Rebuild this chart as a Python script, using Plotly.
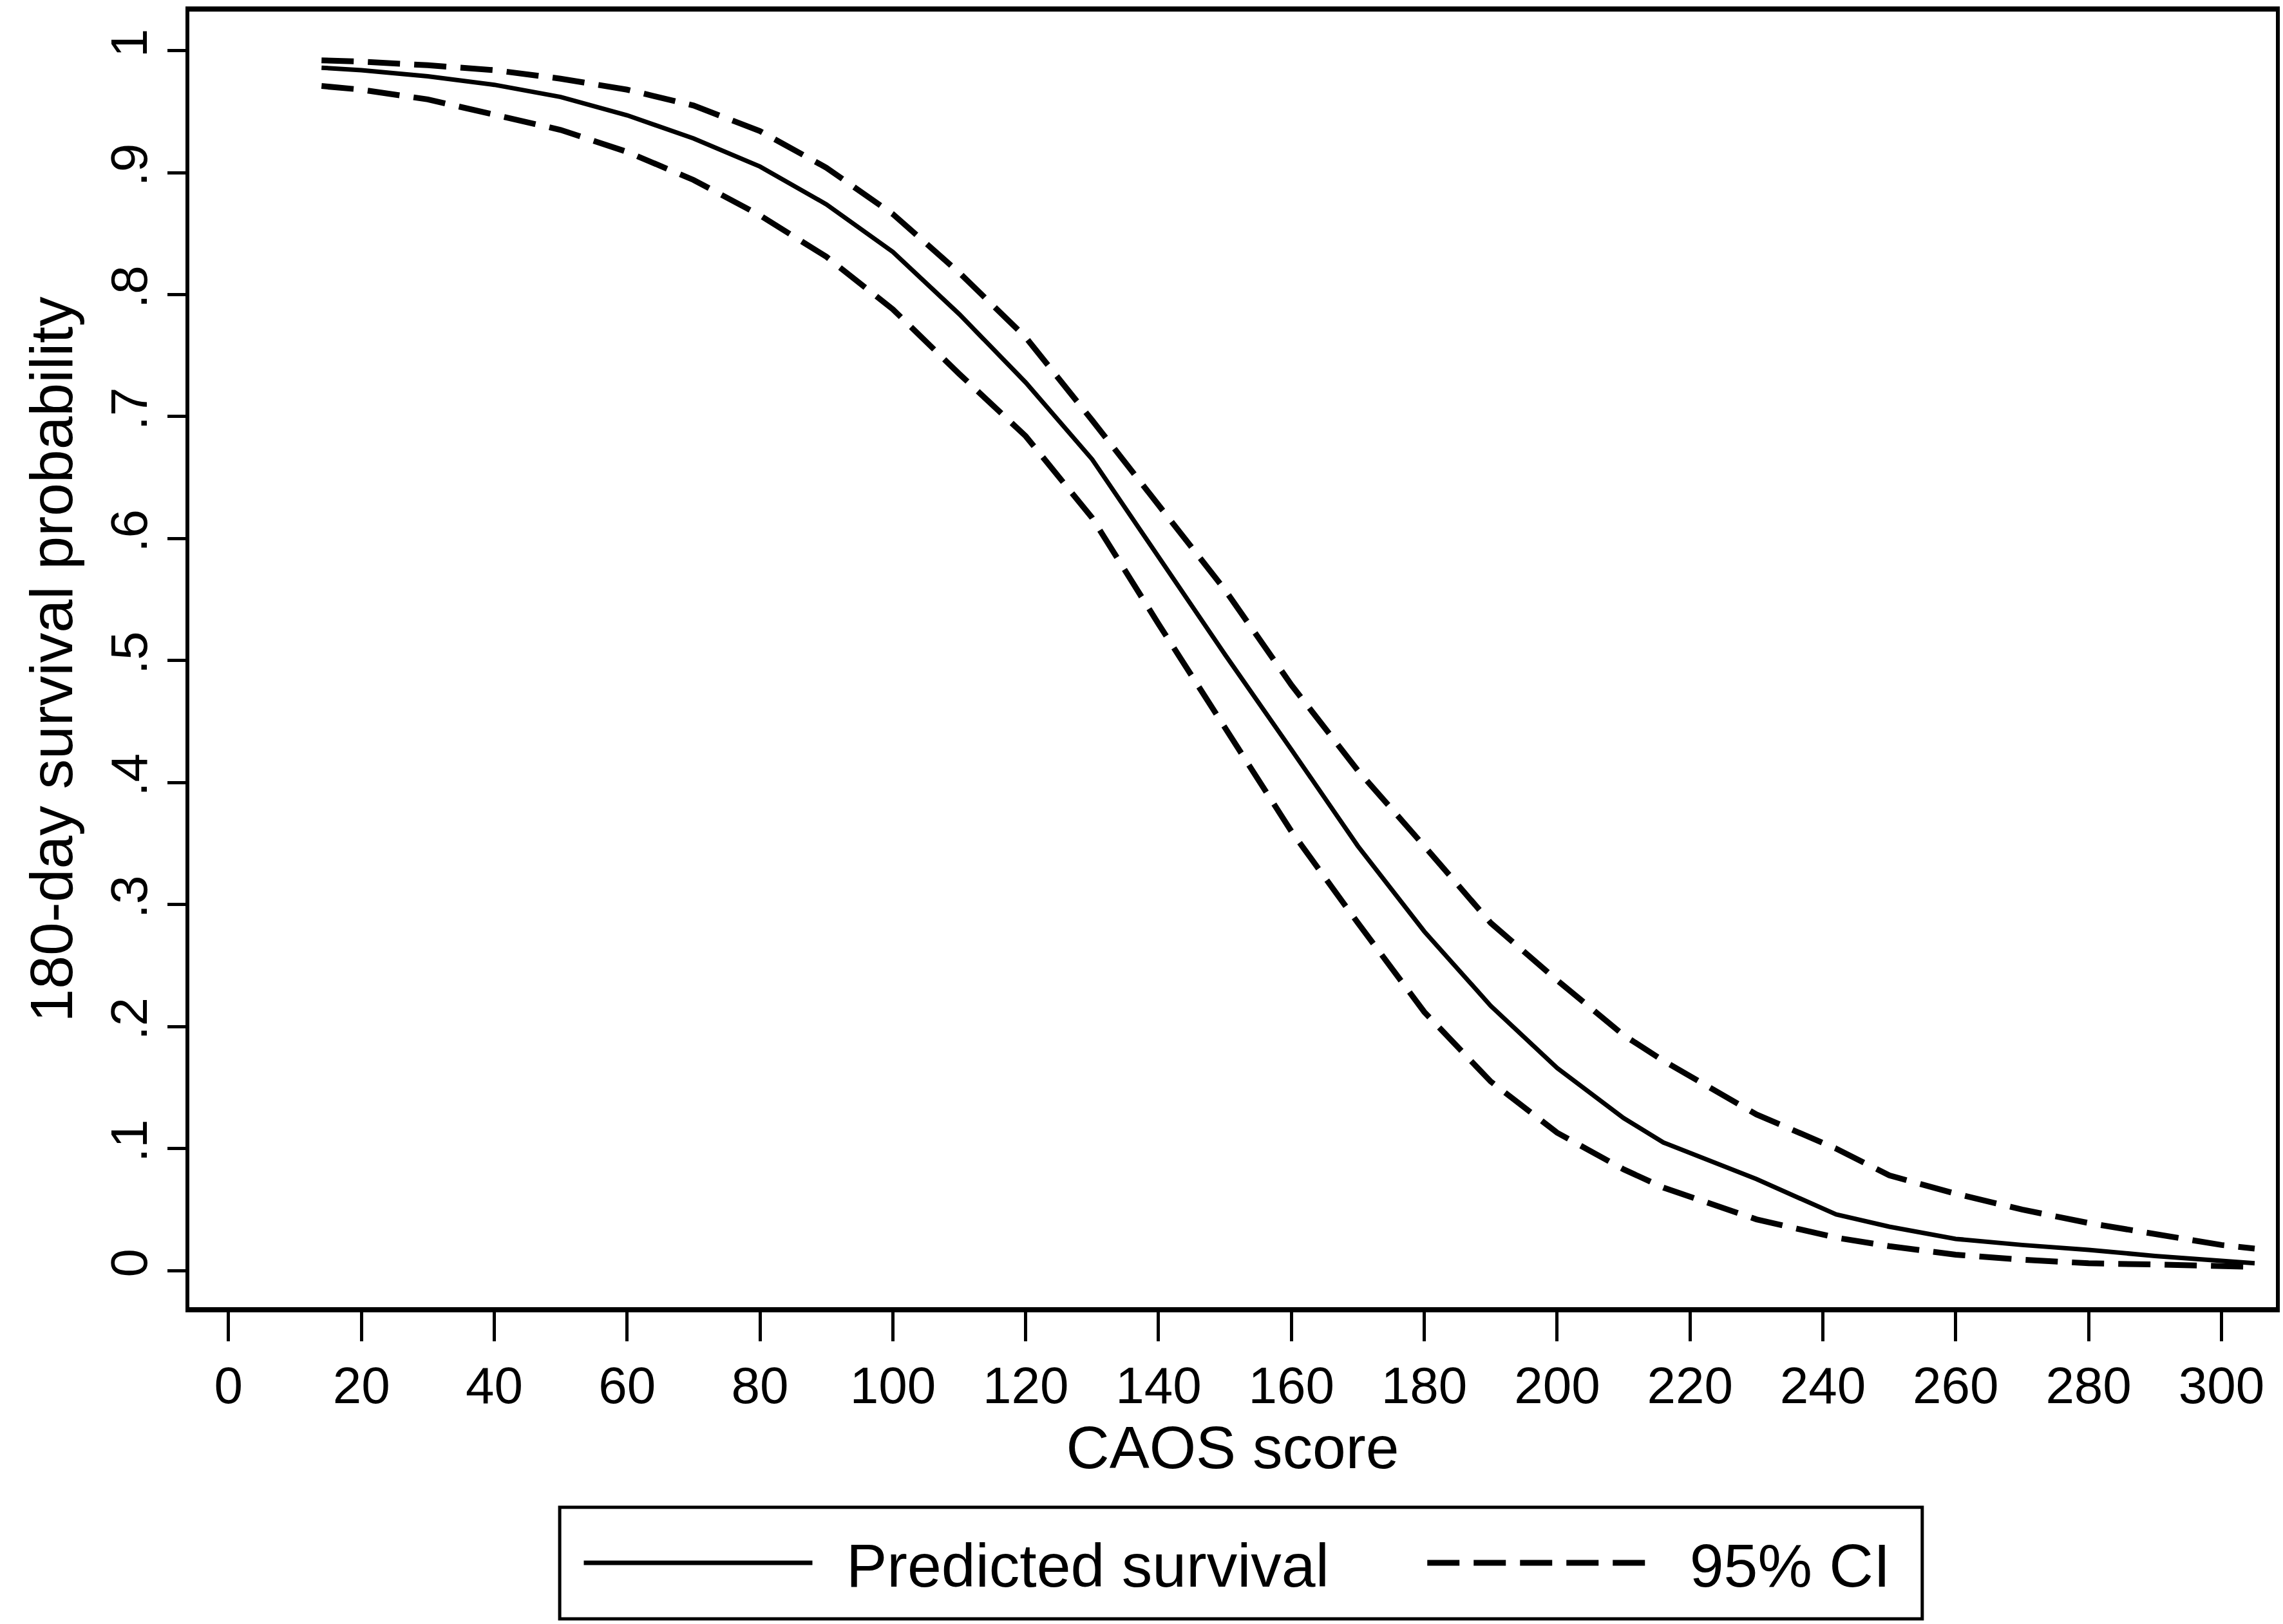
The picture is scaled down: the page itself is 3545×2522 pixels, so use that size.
import plotly.graph_objects as go

# CAOS score grid (x) and readings from the reference chart
caos_score = [14, 20, 30, 40, 50, 60, 70, 80, 90, 100, 110, 120, 130, 140, 150,
              160, 170, 180, 190, 200, 210, 216, 230, 242, 250, 260, 270, 280, 290, 300, 305]

predicted_survival = [0.986, 0.984, 0.979, 0.972, 0.962, 0.947, 0.928, 0.905, 0.874, 0.835,
                      0.784, 0.728, 0.665, 0.585, 0.505, 0.427, 0.348, 0.278, 0.217, 0.166,
                      0.125, 0.105, 0.075, 0.046, 0.036, 0.026, 0.021, 0.017, 0.012, 0.008, 0.006]

ci_upper = [0.992, 0.991, 0.988, 0.984, 0.977, 0.968, 0.955, 0.934, 0.904, 0.866,
            0.818, 0.765, 0.697, 0.627, 0.558, 0.480, 0.410, 0.348, 0.285, 0.238,
            0.193, 0.172, 0.128, 0.100, 0.078, 0.063, 0.050, 0.039, 0.030, 0.021, 0.018]

ci_lower = [0.971, 0.968, 0.960, 0.948, 0.935, 0.917, 0.894, 0.865, 0.831, 0.788,
            0.735, 0.684, 0.617, 0.530, 0.444, 0.360, 0.285, 0.212, 0.155, 0.113,
            0.083, 0.068, 0.042, 0.027, 0.020, 0.013, 0.009, 0.006, 0.005, 0.004, 0.003]

x_ticks = list(range(0, 301, 20))
y_ticks = [0, 0.1, 0.2, 0.3, 0.4, 0.5, 0.6, 0.7, 0.8, 0.9, 1.0]
y_ticktext = ["0", ".1", ".2", ".3", ".4", ".5", ".6", ".7", ".8", ".9", "1"]

FONT = "Liberation Sans, Arial, sans-serif"
DASH = "50px,22px"

fig = go.Figure()
fig.add_trace(go.Scatter(x=caos_score, y=predicted_survival, mode="lines",
                         name="\u2002Predicted survival\u2003\u2002",
                         line=dict(color="black", width=7)))
fig.add_trace(go.Scatter(x=caos_score, y=ci_upper, mode="lines", name="\u200295% CI",
                         line=dict(color="black", width=9, dash=DASH)))
fig.add_trace(go.Scatter(x=caos_score, y=ci_lower, mode="lines", name="95% CI",
                         showlegend=False,
                         line=dict(color="black", width=9, dash=DASH)))

# legend frame (Stata-style box around the key)
fig.add_shape(type="rect", xref="paper", yref="paper",
              x0=0.1775, x1=0.8305, y0=-0.2406, y1=-0.1545,
              line=dict(color="black", width=5), fillcolor="rgba(0,0,0,0)")

fig.update_layout(
    width=3545, height=2522,
    margin=dict(l=294, r=5, t=18, b=492),
    paper_bgcolor="white", plot_bgcolor="white",
    font=dict(family=FONT, color="black", size=80),
    showlegend=True,
    legend=dict(orientation="h", x=0.1875, xanchor="left", y=-0.1975, yanchor="middle",
                borderwidth=0, bgcolor="rgba(0,0,0,0)",
                font=dict(size=95, family=FONT), itemwidth=355,
                traceorder="normal"),
)

fig.update_xaxes(
    range=[-5.9, 308.2], tickvals=x_ticks, ticks="outside", ticklen=45, tickwidth=5,
    tickcolor="black", showgrid=False, zeroline=False,
    showline=True, linecolor="black", linewidth=8, mirror=True,
    tickfont=dict(size=80, family=FONT),
    title=dict(text="CAOS score", font=dict(size=93, family=FONT), standoff=5),
)
fig.update_yaxes(
    range=[-0.030, 1.032], tickvals=y_ticks, ticktext=y_ticktext, tickangle=-90,
    ticks="outside", ticklen=28, tickwidth=5, tickcolor="black",
    showgrid=False, zeroline=False,
    showline=True, linecolor="black", linewidth=6, mirror=True,
    tickfont=dict(size=80, family=FONT),
    title=dict(text="180-day survival probability", font=dict(size=93, family=FONT), standoff=14),
)

fig.write_html("out.html")
